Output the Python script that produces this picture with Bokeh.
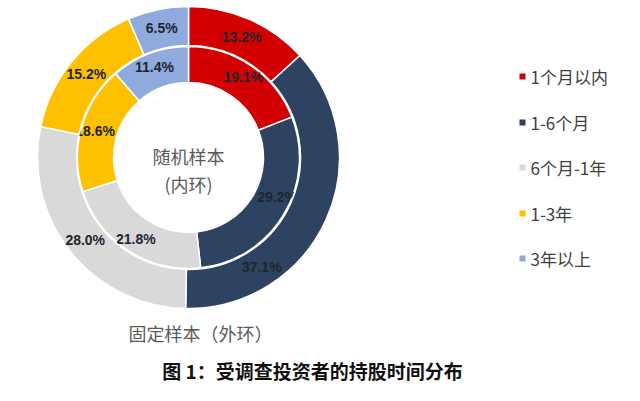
import numpy as np
from bokeh.plotting import figure
from bokeh.models import Range1d, ColumnDataSource
from bokeh.core.properties import value
from bokeh.embed import file_html
from bokeh.resources import INLINE

categories = ["1个月以内", "1-6个月", "6个月-1年", "1-3年", "3年以上"]
inner_values = [19.1, 29.2, 21.8, 18.6, 11.4]   # 随机样本（内环）
outer_values = [13.2, 37.1, 28.0, 15.2, 6.5]    # 固定样本（外环）
colors = ["#D20000", "#2E4361", "#D9D9D9", "#FFC000", "#8FAADC"]

# label placement tweaks (degrees clockwise shift from slice middle)
inner_label_shift = [0, -7, 0, 0, 0]
outer_label_shift = [0, 32, 0, 0, 0]

W, H = 624, 385
p = figure(width=W, height=H, output_backend="svg", toolbar_location=None,
           x_range=Range1d(0, W), y_range=Range1d(-H, 0),
           min_border=0, outline_line_color=None)
p.axis.visible = False
p.grid.visible = False
p.background_fill_color = "white"

cx, cy = 188, -157
R_HOLE, R_IN_OUT, R_OUT_IN, R_OUT = 75, 111, 112, 151


def ring(vals, r0, r1, rl, shifts):
    v = np.array(vals, dtype=float)
    frac = v / v.sum()
    cum = np.concatenate([[0], np.cumsum(frac)])
    start = np.pi / 2 - cum[:-1] * 2 * np.pi
    end = np.pi / 2 - cum[1:] * 2 * np.pi
    src = ColumnDataSource(dict(start=start, end=end, color=colors))
    p.annular_wedge(x=cx, y=cy, inner_radius=r0, outer_radius=r1,
                    start_angle="start", end_angle="end", direction="clock",
                    fill_color="color", line_color="white", line_width=1.5,
                    source=src)
    mid = (cum[:-1] + cum[1:]) / 2 * 360 + np.array(shifts)
    ang = np.deg2rad(mid)
    lx = cx + rl * np.sin(ang)
    ly = cy + rl * np.cos(ang)
    labels = [f"{x:.1f}%" for x in vals]
    p.text(x=lx, y=ly, text=labels, text_align="center", text_baseline="middle",
           text_font=value("Liberation Sans"), text_font_style="bold",
           text_font_size="14px", text_color="#1E2532")


ring(inner_values, R_HOLE, R_IN_OUT, 97, inner_label_shift)
ring(outer_values, R_OUT_IN, R_OUT, 132, outer_label_shift)

# center & bottom ring captions
p.text(x=[188, 188], y=[-155, -183], text=["随机样本", "(内环)"],
       text_align="center", text_baseline="middle",
       text_font=value("Noto Sans CJK SC"), text_font_size="18px",
       text_color="#5A5A5A")
p.text(x=[200], y=[-332], text=["固定样本（外环）"],
       text_align="center", text_baseline="middle",
       text_font=value("Noto Sans CJK SC"), text_font_size="18px",
       text_color="#5A5A5A")

# legend
ly = [-76, -122, -167, -213, -258]
p.scatter(x=[522] * 5, y=ly, marker="square", size=6, fill_color=colors,
          line_color=None)
p.text(x=[530] * 5, y=ly, text=categories, text_align="left",
       text_baseline="middle", text_font=value("Noto Sans CJK SC"),
       text_font_size="17px", text_color="#404040")

# figure caption
p.text(x=[312], y=[-370], text=["图 1：受调查投资者的持股时间分布"],
       text_align="center", text_baseline="middle",
       text_font=value("Noto Sans CJK SC"), text_font_style="bold",
       text_font_size="19px", text_color="#111111")

open("out.html", "w").write(file_html(p, INLINE))
